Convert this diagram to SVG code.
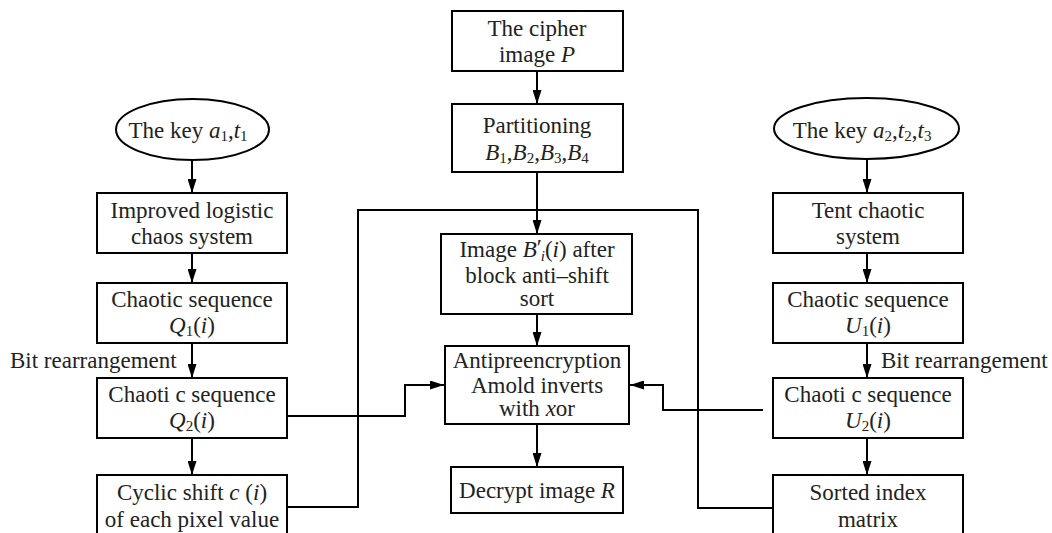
<svg xmlns="http://www.w3.org/2000/svg" width="1052" height="533" viewBox="0 0 1052 533">
  <defs>
    <marker id="arrow" markerUnits="userSpaceOnUse" markerWidth="14" markerHeight="9" refX="14" refY="4.5" viewBox="0 0 14 9" orient="auto">
      <path d="M0,0 L14,4.5 L0,9 z" fill="#000"/>
    </marker>
    <style>
      .box { fill: #fff; stroke: #000; stroke-width: 2; }
      .lbl { font-family: "Liberation Serif", "DejaVu Serif", serif; font-size: 23px; fill: #222; text-anchor: middle; }
      .side { font-family: "Liberation Serif", "DejaVu Serif", serif; font-size: 23px; fill: #222; }
      .it { font-style: italic; }
      .sub { font-size: 15px; }
      .wire { fill: none; stroke: #000; stroke-width: 2; }
    </style>
  </defs>
  <rect width="1052" height="533" fill="#fff"/>

  <!-- connectors -->
  <g id="connectors">
    <line class="wire" x1="192" y1="160" x2="192" y2="193" marker-end="url(#arrow)"/>
    <line class="wire" x1="192" y1="253" x2="192" y2="283" marker-end="url(#arrow)"/>
    <line class="wire" x1="192" y1="343" x2="192" y2="378" marker-end="url(#arrow)"/>
    <line class="wire" x1="192" y1="438" x2="192" y2="475" marker-end="url(#arrow)"/>
    <path class="wire" d="M287,416 H405 V385 H444" marker-end="url(#arrow)"/>
    <path class="wire" d="M287,507 H358 V210 H698 V508 H773"/>
    <line class="wire" x1="537" y1="71" x2="537" y2="104" marker-end="url(#arrow)"/>
    <line class="wire" x1="537" y1="172" x2="537" y2="234" marker-end="url(#arrow)"/>
    <line class="wire" x1="537" y1="314" x2="537" y2="346" marker-end="url(#arrow)"/>
    <line class="wire" x1="537" y1="424" x2="537" y2="467" marker-end="url(#arrow)"/>
    <path class="wire" d="M763,410 H663 V385 H630" marker-end="url(#arrow)"/>
    <line class="wire" x1="867" y1="159" x2="867" y2="193" marker-end="url(#arrow)"/>
    <line class="wire" x1="867" y1="253" x2="867" y2="283" marker-end="url(#arrow)"/>
    <line class="wire" x1="867" y1="343" x2="867" y2="378" marker-end="url(#arrow)"/>
    <line class="wire" x1="867" y1="438" x2="867" y2="475" marker-end="url(#arrow)"/>
    <text class="side" x="10" y="368">Bit rearrangement</text>
    <text class="side" x="881" y="368">Bit rearrangement</text>
  </g>

  <!-- left column -->
  <g id="key1">
    <ellipse class="box" cx="192.5" cy="129.5" rx="76.5" ry="30.5"/>
    <text class="lbl" x="188" y="138">The key <tspan class="it">a</tspan><tspan class="sub" dy="3">1</tspan><tspan dy="-3">,</tspan><tspan class="it">t</tspan><tspan class="sub" dy="3">1</tspan></text>
  </g>
  <g id="logistic">
    <rect class="box" x="97" y="193" width="190" height="60"/>
    <text class="lbl" x="192" y="218">Improved logistic</text>
    <text class="lbl" x="192" y="244">chaos system</text>
  </g>
  <g id="q1">
    <rect class="box" x="97" y="283" width="190" height="60"/>
    <text class="lbl" x="192" y="307">Chaotic sequence</text>
    <text class="lbl" x="192" y="333"><tspan class="it">Q</tspan><tspan class="sub" dy="3">1</tspan><tspan dy="-3">(</tspan><tspan class="it">i</tspan>)</text>
  </g>
  <g id="q2">
    <rect class="box" x="97" y="378" width="190" height="60"/>
    <text class="lbl" x="192" y="402">Chaoti c sequence</text>
    <text class="lbl" x="192" y="428"><tspan class="it">Q</tspan><tspan class="sub" dy="3">2</tspan><tspan dy="-3">(</tspan><tspan class="it">i</tspan>)</text>
  </g>
  <g id="cyclic">
    <rect class="box" x="97" y="475" width="190" height="70"/>
    <text class="lbl" x="192" y="500">Cyclic shift <tspan class="it">c</tspan> (<tspan class="it">i</tspan>)</text>
    <text class="lbl" x="192" y="527">of each pixel value</text>
  </g>

  <!-- centre column -->
  <g id="cipher">
    <rect class="box" x="452" y="11" width="171" height="60"/>
    <text class="lbl" x="537" y="36">The cipher</text>
    <text class="lbl" x="537" y="62">image <tspan class="it">P</tspan></text>
  </g>
  <g id="partition">
    <rect class="box" x="452" y="104" width="171" height="68"/>
    <text class="lbl" x="537" y="133">Partitioning</text>
    <text class="lbl" x="537" y="160"><tspan class="it">B</tspan><tspan class="sub" dy="3">1</tspan><tspan dy="-3">,</tspan><tspan class="it">B</tspan><tspan class="sub" dy="3">2</tspan><tspan dy="-3">,</tspan><tspan class="it">B</tspan><tspan class="sub" dy="3">3</tspan><tspan dy="-3">,</tspan><tspan class="it">B</tspan><tspan class="sub" dy="3">4</tspan></text>
  </g>
  <g id="antishift">
    <rect class="box" x="441" y="234" width="191" height="80"/>
    <text class="lbl" x="537" y="257">Image <tspan class="it">B</tspan><tspan dy="-2">′</tspan><tspan class="sub it" dx="-1" dy="6">i</tspan><tspan dy="-4">(</tspan><tspan class="it">i</tspan>) after</text>
    <text class="lbl" x="537" y="283">block anti–shift</text>
    <text class="lbl" x="537" y="306">sort</text>
  </g>
  <g id="antipre">
    <rect class="box" x="445" y="346" width="184" height="78"/>
    <text class="lbl" x="537" y="368">Antipreencryption</text>
    <text class="lbl" x="537" y="393">Amold inverts</text>
    <text class="lbl" x="537" y="416">with <tspan class="it">x</tspan>or</text>
  </g>
  <g id="decrypt">
    <rect class="box" x="451" y="467" width="172" height="46"/>
    <text class="lbl" x="537" y="498">Decrypt image <tspan class="it">R</tspan></text>
  </g>

  <!-- right column -->
  <g id="key2">
    <ellipse class="box" cx="866.5" cy="128.5" rx="92.5" ry="30.5"/>
    <text class="lbl" x="862" y="138">The key <tspan class="it">a</tspan><tspan class="sub" dy="3">2</tspan><tspan dy="-3">,</tspan><tspan class="it">t</tspan><tspan class="sub" dy="3">2</tspan><tspan dy="-3">,</tspan><tspan class="it">t</tspan><tspan class="sub" dy="3">3</tspan></text>
  </g>
  <g id="tent">
    <rect class="box" x="773" y="193" width="190" height="60"/>
    <text class="lbl" x="868" y="218">Tent chaotic</text>
    <text class="lbl" x="868" y="244">system</text>
  </g>
  <g id="u1">
    <rect class="box" x="773" y="283" width="190" height="60"/>
    <text class="lbl" x="868" y="307">Chaotic sequence</text>
    <text class="lbl" x="868" y="333"><tspan class="it">U</tspan><tspan class="sub" dy="3">1</tspan><tspan dy="-3">(</tspan><tspan class="it">i</tspan>)</text>
  </g>
  <g id="u2">
    <rect class="box" x="773" y="378" width="190" height="60"/>
    <text class="lbl" x="868" y="402">Chaoti c sequence</text>
    <text class="lbl" x="868" y="428"><tspan class="it">U</tspan><tspan class="sub" dy="3">2</tspan><tspan dy="-3">(</tspan><tspan class="it">i</tspan>)</text>
  </g>
  <g id="sorted">
    <rect class="box" x="773" y="475" width="190" height="70"/>
    <text class="lbl" x="868" y="500">Sorted index</text>
    <text class="lbl" x="868" y="527">matrix</text>
  </g>
</svg>
